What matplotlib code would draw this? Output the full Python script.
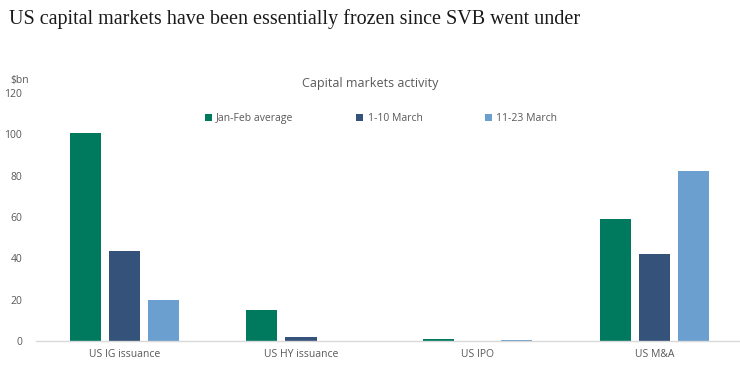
import numpy as np
import matplotlib
matplotlib.use("Agg")
import matplotlib.pyplot as plt

categories = ["US IG issuance", "US HY issuance", "US IPO", "US M&A"]
series_names = ["Jan-Feb average", "1-10 March", "11-23 March"]
jan_feb = [100.5, 15.0, 1.0, 59.0]
march_1_10 = [43.5, 1.8, 0.0, 42.0]
march_11_23 = [19.7, 0.0, 0.3, 82.3]
colors = ["#007A5E", "#34527A", "#6A9FD0"]

plt.rcParams["font.family"] = ["Open Sans", "DejaVu Sans"]

fig = plt.figure(figsize=(7.4, 3.66), dpi=100)
ax = fig.add_axes([0.0486, 0.0683, 0.955, 0.6777])

x = np.arange(len(categories))
w = 0.176
step = 0.222
for i, (vals, name) in enumerate(zip([jan_feb, march_1_10, march_11_23], series_names)):
    ax.bar(x + (i - 1) * step, vals, width=w, color=colors[i], label=name, zorder=2)

ax.set_xlim(-0.5, 3.5)
ax.set_ylim(0, 120)
ax.set_yticks(range(0, 121, 20))
ax.set_xticks(x)
ax.set_xticklabels(categories)
ax.tick_params(axis="both", length=0, labelsize=7.5, labelcolor="#595959")
ax.tick_params(axis="y", pad=10)
ax.tick_params(axis="x", pad=6)
for side in ["top", "right", "left"]:
    ax.spines[side].set_visible(False)
ax.spines["bottom"].set_color("#D9D9D9")
ax.spines["bottom"].set_linewidth(1.0)

fig.text(0.012, 0.949, "US capital markets have been essentially frozen since SVB went under",
         fontsize=14.5, family="Liberation Serif", color="#1a1a1a", va="center")
fig.text(0.5, 0.773, "Capital markets activity", fontsize=9, color="#595959", ha="center", va="center")
fig.text(0.014, 0.78, "$bn", fontsize=7.5, color="#595959", va="center")

leg = fig.legend(loc="center", bbox_to_anchor=(0.515, 0.675), ncol=3, frameon=False,
                 fontsize=7.5, handlelength=0.7, handleheight=0.7, handletextpad=0.4,
                 columnspacing=6.0, labelcolor="#595959")

fig.savefig("out.png", dpi=100)
